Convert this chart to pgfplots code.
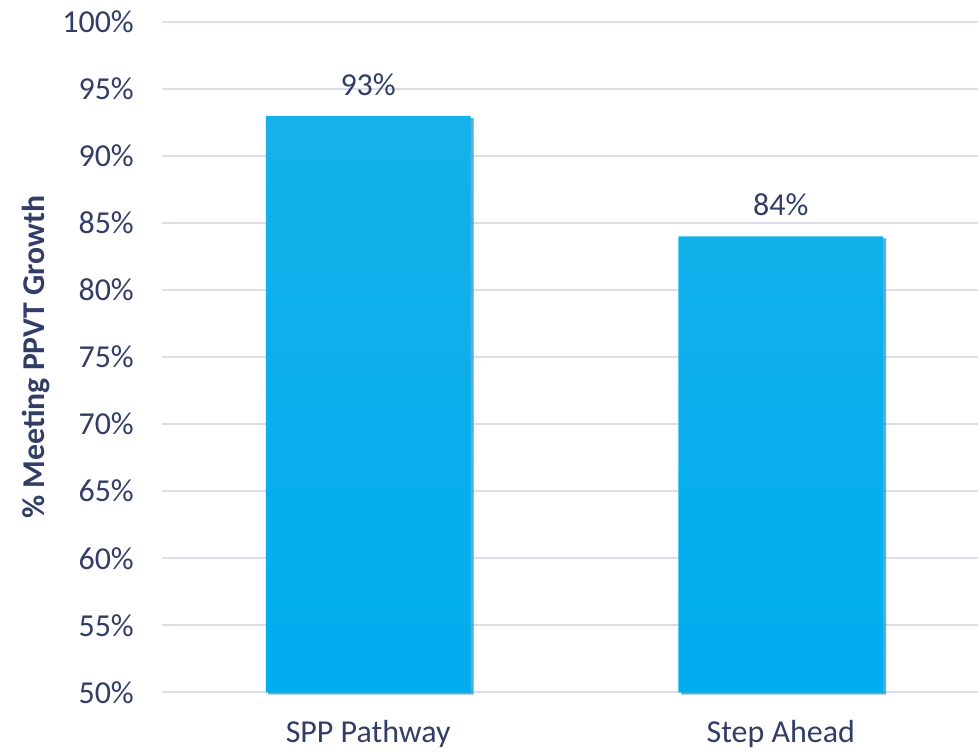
\documentclass[border=0pt]{standalone}
\usepackage{pgfplots}
\pgfplotsset{compat=1.18}
\usepackage{fontspec}
\setmainfont{Carlito}
\definecolor{txt}{HTML}{323E66}
\definecolor{gridc}{HTML}{DCDDEA}
\definecolor{bartop}{HTML}{15B1EA}
\definecolor{barbot}{HTML}{00ADEF}

\begin{document}
\begin{tikzpicture}
  \begin{axis}[
      at={(0,0)}, anchor=south west,
      width=408.5bp, height=335.5bp,
      scale only axis,
      ybar,
      bar width=102.5bp,
      xmin=-0.5, xmax=1.478,
      ymin=50, ymax=100,
      xtick=data,
      xticklabels={SPP Pathway, Step Ahead},
      ytick={50,55,...,100},
      yticklabel={\pgfmathprintnumber{\tick}\%},
      /pgf/number format/assume math mode=true,
      axis line style={draw=none},
      major tick length=0pt,
      ymajorgrids,
      grid style={gridc, line width=1bp},
      tick label style={font=\fontsize{16bp}{19bp}\selectfont, text=txt},
      yticklabel style={xshift=-10.5bp},
      xticklabel style={yshift=-10.5bp},
      ylabel={\bfseries\% Meeting PPVT Growth},
      ylabel style={at={(axis description cs:-0.1542,0.5)}, anchor=center,
        font=\fontsize{15.9bp}{19bp}\selectfont, text=txt},
      nodes near coords={\pgfmathprintnumber{\pgfplotspointmeta}\%},
      nodes near coords style={font=\fontsize{16bp}{19bp}\selectfont, text=txt, inner sep=0pt, anchor=south, yshift=10bp},
      clip=false,
    ]
    \addplot[draw=none, top color=bartop, bottom color=barbot,
      preaction={fill=black!45, opacity=0.6, transform canvas={xshift=1.5bp, yshift=-1bp}}]
      coordinates {(0,93) (1,84)};
  \end{axis}
  \useasboundingbox (-81bp,-29bp) rectangle (408.5bp,346.5bp);
\end{tikzpicture}
\end{document}
